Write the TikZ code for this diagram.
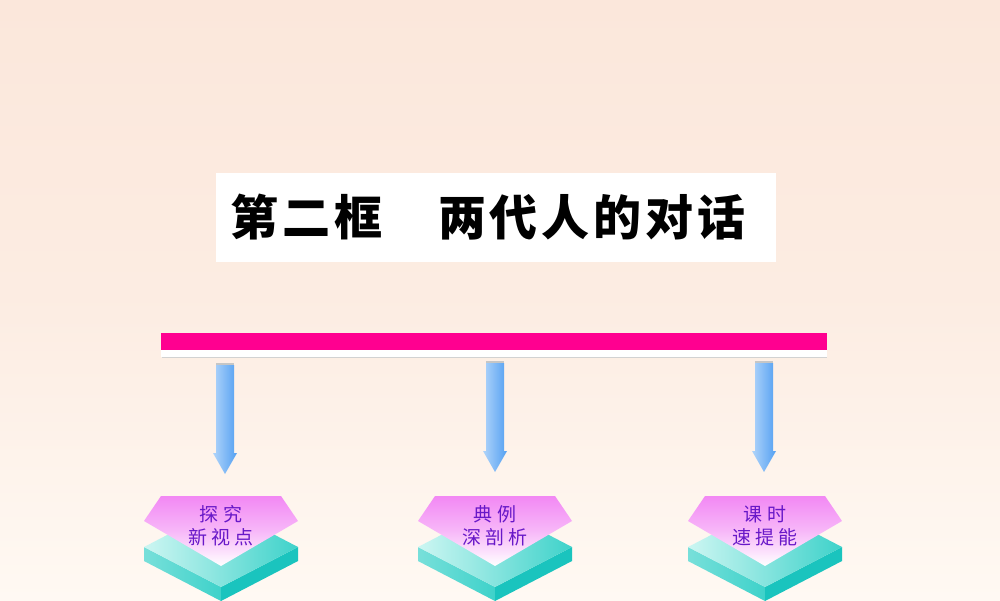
\documentclass[tikz,border=0pt]{standalone}
\usepackage{fontspec}
\newfontfamily\cjk{Noto Sans CJK SC}
\newfontfamily\cjktitle[LetterSpace=8]{Noto Sans CJK SC}
\usepackage{tikz}
\usetikzlibrary{positioning}
\usepackage{xcolor}

\definecolor{bgtop}{RGB}{251,231,219}
\definecolor{bgbot}{RGB}{255,249,243}
\definecolor{barpink}{RGB}{255,0,144}
\definecolor{arrowlight}{RGB}{176,212,250}
\definecolor{arrowdark}{RGB}{84,160,242}
\definecolor{padpink}{RGB}{242,136,244}
\definecolor{tealtop}{RGB}{205,246,242}
\definecolor{tealmid}{RGB}{62,210,202}
\definecolor{tealdark}{RGB}{26,196,190}
\definecolor{labelpurple}{RGB}{104,24,200}

\begin{document}
\begin{tikzpicture}[
    x=1pt, y=-1pt,
    titlebox/.style={fill=white, minimum width=560, minimum height=89, inner sep=0pt},
    titletext/.style={inner sep=0pt, font=\cjktitle\bfseries\fontsize{48}{52}\selectfont},
    bar/.style={fill=barpink, minimum width=666, minimum height=17, inner sep=0pt},
    padtext/.style={align=center, text=labelpurple, inner sep=0pt,
      font=\cjk\fontsize{19}{23}\selectfont}
  ]

  % Background
  \shade[top color=bgtop, bottom color=bgbot, middle color=bgtop!70!bgbot] (0,0) rectangle (1000,600);
  \useasboundingbox (0,0) rectangle (1000,600);

  % Title
  \node[titlebox] (title) at (496,217.5) {};
  \node[titletext, xshift=-8] (titlelabel) at (title.center) {第二框　两代人的对话};

  % Pink bar
  \fill[white] (161,333) rectangle (827,357);
  \draw[gray!35] (162,357) -- (827,357);
  \node[bar] (bar) at (494,341.5) {};

  % Down arrows
  \foreach \ax/\atop/\atip in {225/365/474, 495/363/472, 764/363/472}{
    \fill[gray!45] (\ax-9,\atop-2) rectangle (\ax+9,\atop+4);
    \shade[left color=arrowlight, right color=arrowdark]
      (\ax-9,\atop) -- (\ax+9,\atop) -- (\ax+9,\atip-21) -- (\ax+12,\atip-21)
      -- (\ax,\atip) -- (\ax-12,\atip-21) -- (\ax-9,\atip-21) -- cycle;
  }

  % Stacked pads
  \foreach \cx/\la/\lb/\nm in {221/探 究/新 视 点/pad1, 495/典 例/深 剖 析/pad2, 765/课 时/速 提 能/pad3}{
    \begin{scope}[shift={(\cx,0)}]
      \shade[left color=tealmid!70!white, right color=tealmid] (-77,547) -- (0,587) -- (0,601) -- (-77,561) -- cycle;
      \fill[tealdark] (0,587) -- (77,547) -- (77,561) -- (0,601) -- cycle;
      \shade[left color=tealtop, right color=tealmid] (-77,547) -- (0,507) -- (77,547) -- (0,587) -- cycle;
      \shade[top color=padpink, bottom color=white, middle color=padpink!60!white]
        (-60,496) -- (60,496) -- (77,521) -- (0,566) -- (-77,521) -- cycle;
      \node[padtext] (\nm) at (0,526) {\la\\\lb};
    \end{scope}
  }

\end{tikzpicture}
\end{document}
